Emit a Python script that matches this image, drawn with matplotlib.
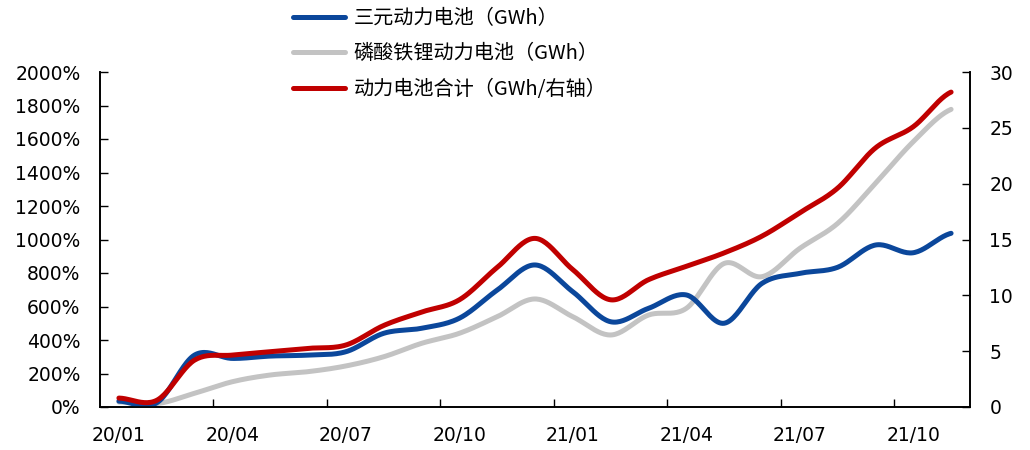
import numpy as np
import matplotlib.pyplot as plt

plt.rcParams['font.family'] = ['DejaVu Sans', 'Noto Sans CJK SC']

months = ["20/01", "20/02", "20/03", "20/04", "20/05", "20/06", "20/07", "20/08",
          "20/09", "20/10", "20/11", "20/12", "21/01", "21/02", "21/03", "21/04",
          "21/05", "21/06", "21/07", "21/08", "21/09", "21/10", "21/11"]
ternary = [35, 25, 310, 290, 304, 310, 330, 440, 470, 530, 698, 848, 688, 509,
           589, 669, 500, 738, 798, 834, 967, 921, 1037]
lfp = [30, 20, 82, 151, 191, 211, 245, 300, 380, 440, 539, 645, 539, 430,
       549, 589, 857, 778, 947, 1096, 1335, 1584, 1777]
total = [0.8, 0.6, 4.2, 4.65, 4.95, 5.25, 5.55, 7.3, 8.5, 9.6, 12.5, 15.1, 12.3,
         9.6, 11.4, 12.6, 13.8, 15.3, 17.4, 19.6, 23.2, 25.1, 28.2]

labels = ["三元动力电池（GWh）", "磷酸铁锂动力电池（GWh）", "动力电池合计（GWh/右轴）"]
c_blue, c_grey, c_red = "#0B479B", "#C3C3C3", "#C00000"


def smooth(y, n=24):
    # cubic bezier through each point, like a spreadsheet "smoothed line"
    y = np.asarray(y, float)
    p = np.concatenate([[y[0]], y, [y[-1]]])
    xs, ys = [], []
    for i in range(len(y) - 1):
        p0, p1, p2, p3 = p[i], p[i + 1], p[i + 2], p[i + 3]
        c1 = p1 + (p2 - p0) / 6
        c2 = p2 - (p3 - p1) / 6
        t = np.linspace(0, 1, n, endpoint=False)
        ys.append((1 - t) ** 3 * p1 + 3 * (1 - t) ** 2 * t * c1
                  + 3 * (1 - t) * t ** 2 * c2 + t ** 3 * p2)
        xs.append(i + t)
    xs.append([len(y) - 1])
    ys.append([y[-1]])
    return np.concatenate(xs), np.concatenate(ys)


fig = plt.figure(figsize=(10.3, 4.5), dpi=100)
ax = fig.add_axes([100 / 1030, 1 - 407 / 450, 870 / 1030, 335 / 450])
ax2 = ax.twinx()

l1, = ax.plot(*smooth(ternary), color=c_blue, lw=3.6, solid_capstyle='round', zorder=3)
l2, = ax.plot(*smooth(lfp), color=c_grey, lw=3.6, solid_capstyle='round', zorder=2)
l3, = ax2.plot(*smooth(total), color=c_red, lw=3.6, solid_capstyle='round')

ax.set_xlim(-0.5, len(months) - 0.5)
ax.set_ylim(0, 2000)
ax2.set_ylim(0, 30)
ax.set_yticks(np.arange(0, 2001, 200))
ax.set_yticklabels([f"{v}%" for v in range(0, 2001, 200)])
ax2.set_yticks(np.arange(0, 31, 5))

ax.set_xticks(np.arange(2.5, len(months) - 1, 3))
ax.set_xticklabels([])
ax.set_xticks(np.arange(0, len(months), 3), minor=True)
ax.set_xticklabels(months[::3], minor=True)
ax.tick_params(axis='x', which='minor', length=0, pad=14, labelsize=13.5)
ax.tick_params(axis='x', which='major', direction='in', length=6, width=1)
ax.tick_params(axis='y', direction='in', length=6, width=1, pad=14, labelsize=13.5)
ax2.tick_params(axis='y', direction='in', length=6, width=1, pad=14, labelsize=13.5)

for a in (ax, ax2):
    a.spines['top'].set_visible(False)
    for s in a.spines.values():
        s.set_linewidth(1.2)

fig.legend([l1, l2, l3], labels, loc='upper left', bbox_to_anchor=(283 / 1030, 1.005),
           frameon=False, prop={'family': ['Noto Sans CJK SC'], 'size': 14.5},
           handlelength=2.6, handletextpad=0.4, labelspacing=0.72, borderaxespad=0.1)

fig.savefig("out.png", dpi=100)
